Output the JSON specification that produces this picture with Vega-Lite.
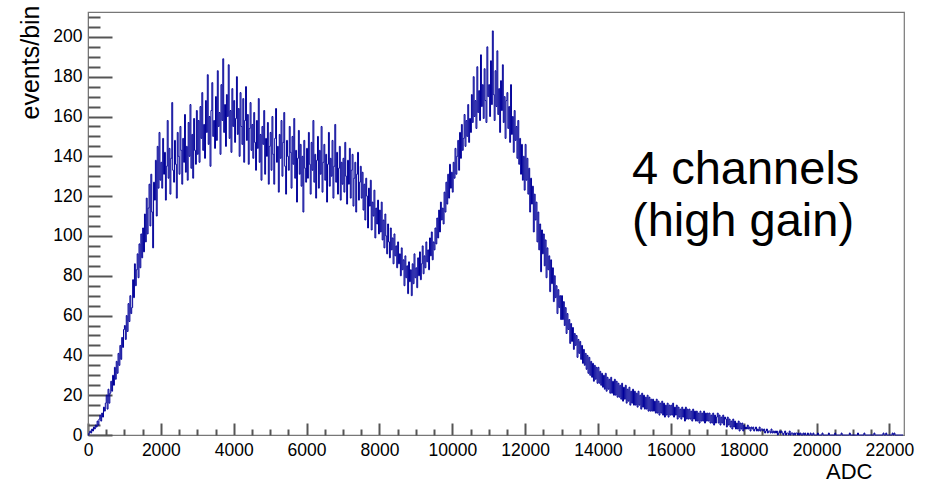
{
  "$schema": "https://vega.github.io/schema/vega-lite/v6.json",
  "width": 816,
  "height": 423,
  "autosize": {"type": "none"},
  "padding": {"left": 88, "top": 12, "right": 24, "bottom": 46},
  "background": "white",
  "config": {
    "view": {"stroke": "#777", "strokeWidth": 1.2},
    "font": "Liberation Sans"
  },
  "resolve": {"axis": {"x": "independent", "y": "independent"}},
  "layer": [
    {
      "data": {"values": [
        {"x":0,"y":0},{"x":25,"y":1},{"x":50,"y":2},{"x":75,"y":1},{"x":100,"y":3},{"x":125,"y":2},{"x":150,"y":4},{"x":175,"y":3},{"x":200,"y":5},{"x":225,"y":4},{"x":250,"y":7},{"x":275,"y":5},{"x":300,"y":8},{"x":325,"y":10},{"x":350,"y":7},{"x":375,"y":11},{"x":400,"y":9},{"x":425,"y":14},{"x":450,"y":12},{"x":475,"y":16},
        {"x":500,"y":20},{"x":525,"y":13},{"x":550,"y":23},{"x":575,"y":16},{"x":600,"y":21},{"x":625,"y":27},{"x":650,"y":22},{"x":675,"y":30},{"x":700,"y":25},{"x":725,"y":34},{"x":750,"y":28},{"x":775,"y":37},{"x":800,"y":31},{"x":825,"y":41},{"x":850,"y":35},{"x":875,"y":45},{"x":900,"y":38},{"x":925,"y":49},{"x":950,"y":44},{"x":975,"y":53},
        {"x":1000,"y":55},{"x":1025,"y":48},{"x":1050,"y":60},{"x":1075,"y":52},{"x":1100,"y":66},{"x":1125,"y":57},{"x":1150,"y":70},{"x":1175,"y":61},{"x":1200,"y":64},{"x":1225,"y":78},{"x":1250,"y":69},{"x":1275,"y":86},{"x":1300,"y":75},{"x":1325,"y":83},{"x":1350,"y":91},{"x":1375,"y":79},{"x":1400,"y":96},{"x":1425,"y":84},{"x":1450,"y":101},{"x":1475,"y":89},
        {"x":1500,"y":104},{"x":1525,"y":92},{"x":1550,"y":111},{"x":1575,"y":97},{"x":1600,"y":119},{"x":1625,"y":101},{"x":1650,"y":114},{"x":1675,"y":126},{"x":1700,"y":105},{"x":1725,"y":131},{"x":1750,"y":112},{"x":1775,"y":94},{"x":1800,"y":127},{"x":1825,"y":118},{"x":1850,"y":138},{"x":1875,"y":110},{"x":1900,"y":145},{"x":1925,"y":124},{"x":1950,"y":152},{"x":1975,"y":128},
        {"x":2000,"y":137},{"x":2025,"y":124},{"x":2050,"y":149},{"x":2075,"y":131},{"x":2100,"y":142},{"x":2125,"y":118},{"x":2150,"y":135},{"x":2175,"y":158},{"x":2200,"y":129},{"x":2225,"y":144},{"x":2250,"y":121},{"x":2275,"y":139},{"x":2300,"y":167},{"x":2325,"y":133},{"x":2350,"y":127},{"x":2375,"y":148},{"x":2400,"y":136},{"x":2425,"y":119},{"x":2450,"y":152},{"x":2475,"y":140},
        {"x":2500,"y":131},{"x":2525,"y":155},{"x":2550,"y":143},{"x":2575,"y":126},{"x":2600,"y":149},{"x":2625,"y":137},{"x":2650,"y":161},{"x":2675,"y":132},{"x":2700,"y":145},{"x":2725,"y":128},{"x":2750,"y":157},{"x":2775,"y":140},{"x":2800,"y":166},{"x":2825,"y":134},{"x":2850,"y":151},{"x":2875,"y":129},{"x":2900,"y":159},{"x":2925,"y":143},{"x":2950,"y":136},{"x":2975,"y":163},
        {"x":3000,"y":141},{"x":3025,"y":158},{"x":3050,"y":137},{"x":3075,"y":165},{"x":3100,"y":149},{"x":3125,"y":172},{"x":3150,"y":143},{"x":3175,"y":156},{"x":3200,"y":139},{"x":3225,"y":168},{"x":3250,"y":152},{"x":3275,"y":181},{"x":3300,"y":146},{"x":3325,"y":160},{"x":3350,"y":135},{"x":3375,"y":163},{"x":3400,"y":177},{"x":3425,"y":150},{"x":3450,"y":158},{"x":3475,"y":144},
        {"x":3500,"y":170},{"x":3525,"y":148},{"x":3550,"y":183},{"x":3575,"y":155},{"x":3600,"y":162},{"x":3625,"y":141},{"x":3650,"y":176},{"x":3675,"y":158},{"x":3700,"y":189},{"x":3725,"y":152},{"x":3750,"y":166},{"x":3775,"y":145},{"x":3800,"y":171},{"x":3825,"y":160},{"x":3850,"y":186},{"x":3875,"y":149},{"x":3900,"y":163},{"x":3925,"y":142},{"x":3950,"y":174},{"x":3975,"y":155},
        {"x":4000,"y":168},{"x":4025,"y":147},{"x":4050,"y":159},{"x":4075,"y":180},{"x":4100,"y":151},{"x":4125,"y":164},{"x":4150,"y":140},{"x":4175,"y":172},{"x":4200,"y":155},{"x":4225,"y":146},{"x":4250,"y":169},{"x":4275,"y":137},{"x":4300,"y":158},{"x":4325,"y":175},{"x":4350,"y":148},{"x":4375,"y":161},{"x":4400,"y":136},{"x":4425,"y":154},{"x":4450,"y":167},{"x":4475,"y":143},
        {"x":4500,"y":156},{"x":4525,"y":139},{"x":4550,"y":162},{"x":4575,"y":147},{"x":4600,"y":133},{"x":4625,"y":158},{"x":4650,"y":144},{"x":4675,"y":169},{"x":4700,"y":137},{"x":4725,"y":151},{"x":4750,"y":128},{"x":4775,"y":155},{"x":4800,"y":146},{"x":4825,"y":163},{"x":4850,"y":131},{"x":4875,"y":149},{"x":4900,"y":140},{"x":4925,"y":157},{"x":4950,"y":126},{"x":4975,"y":145},
        {"x":5000,"y":152},{"x":5025,"y":133},{"x":5050,"y":160},{"x":5075,"y":141},{"x":5100,"y":126},{"x":5125,"y":149},{"x":5150,"y":164},{"x":5175,"y":137},{"x":5200,"y":145},{"x":5225,"y":122},{"x":5250,"y":151},{"x":5275,"y":139},{"x":5300,"y":158},{"x":5325,"y":130},{"x":5350,"y":147},{"x":5375,"y":162},{"x":5400,"y":135},{"x":5425,"y":121},{"x":5450,"y":148},{"x":5475,"y":140},
        {"x":5500,"y":133},{"x":5525,"y":155},{"x":5550,"y":142},{"x":5575,"y":124},{"x":5600,"y":150},{"x":5625,"y":136},{"x":5650,"y":159},{"x":5675,"y":129},{"x":5700,"y":143},{"x":5725,"y":117},{"x":5750,"y":139},{"x":5775,"y":153},{"x":5800,"y":131},{"x":5825,"y":146},{"x":5850,"y":125},{"x":5875,"y":140},{"x":5900,"y":112},{"x":5925,"y":148},{"x":5950,"y":134},{"x":5975,"y":127},
        {"x":6000,"y":144},{"x":6025,"y":129},{"x":6050,"y":152},{"x":6075,"y":136},{"x":6100,"y":121},{"x":6125,"y":147},{"x":6150,"y":133},{"x":6175,"y":158},{"x":6200,"y":127},{"x":6225,"y":141},{"x":6250,"y":119},{"x":6275,"y":138},{"x":6300,"y":150},{"x":6325,"y":124},{"x":6350,"y":143},{"x":6375,"y":131},{"x":6400,"y":155},{"x":6425,"y":122},{"x":6450,"y":137},{"x":6475,"y":146},
        {"x":6500,"y":128},{"x":6525,"y":141},{"x":6550,"y":117},{"x":6575,"y":136},{"x":6600,"y":152},{"x":6625,"y":125},{"x":6650,"y":139},{"x":6675,"y":130},{"x":6700,"y":148},{"x":6725,"y":119},{"x":6750,"y":135},{"x":6775,"y":156},{"x":6800,"y":127},{"x":6825,"y":142},{"x":6850,"y":121},{"x":6875,"y":134},{"x":6900,"y":145},{"x":6925,"y":118},{"x":6950,"y":137},{"x":6975,"y":126},
        {"x":7000,"y":139},{"x":7025,"y":122},{"x":7050,"y":147},{"x":7075,"y":130},{"x":7100,"y":116},{"x":7125,"y":138},{"x":7150,"y":126},{"x":7175,"y":144},{"x":7200,"y":119},{"x":7225,"y":133},{"x":7250,"y":141},{"x":7275,"y":115},{"x":7300,"y":129},{"x":7325,"y":137},{"x":7350,"y":112},{"x":7375,"y":131},{"x":7400,"y":142},{"x":7425,"y":118},{"x":7450,"y":127},{"x":7475,"y":135},
        {"x":7500,"y":119},{"x":7525,"y":132},{"x":7550,"y":113},{"x":7575,"y":126},{"x":7600,"y":108},{"x":7625,"y":129},{"x":7650,"y":120},{"x":7675,"y":104},{"x":7700,"y":124},{"x":7725,"y":115},{"x":7750,"y":128},{"x":7775,"y":103},{"x":7800,"y":117},{"x":7825,"y":110},{"x":7850,"y":123},{"x":7875,"y":99},{"x":7900,"y":114},{"x":7925,"y":106},{"x":7950,"y":118},{"x":7975,"y":101},
        {"x":8000,"y":113},{"x":8025,"y":102},{"x":8050,"y":117},{"x":8075,"y":98},{"x":8100,"y":108},{"x":8125,"y":94},{"x":8150,"y":111},{"x":8175,"y":100},{"x":8200,"y":91},{"x":8225,"y":106},{"x":8250,"y":97},{"x":8275,"y":89},{"x":8300,"y":104},{"x":8325,"y":93},{"x":8350,"y":99},{"x":8375,"y":86},{"x":8400,"y":101},{"x":8425,"y":90},{"x":8450,"y":95},{"x":8475,"y":84},
        {"x":8500,"y":97},{"x":8525,"y":86},{"x":8550,"y":91},{"x":8575,"y":80},{"x":8600,"y":94},{"x":8625,"y":83},{"x":8650,"y":88},{"x":8675,"y":75},{"x":8700,"y":90},{"x":8725,"y":79},{"x":8750,"y":85},{"x":8775,"y":71},{"x":8800,"y":87},{"x":8825,"y":77},{"x":8850,"y":83},{"x":8875,"y":70},{"x":8900,"y":86},{"x":8925,"y":76},{"x":8950,"y":91},{"x":8975,"y":79},
        {"x":9000,"y":84},{"x":9025,"y":74},{"x":9050,"y":89},{"x":9075,"y":80},{"x":9100,"y":92},{"x":9125,"y":78},{"x":9150,"y":86},{"x":9175,"y":95},{"x":9200,"y":81},{"x":9225,"y":90},{"x":9250,"y":84},{"x":9275,"y":97},{"x":9300,"y":87},{"x":9325,"y":93},{"x":9350,"y":83},{"x":9375,"y":99},{"x":9400,"y":90},{"x":9425,"y":102},{"x":9450,"y":88},{"x":9475,"y":97},
        {"x":9500,"y":93},{"x":9525,"y":104},{"x":9550,"y":96},{"x":9575,"y":109},{"x":9600,"y":99},{"x":9625,"y":113},{"x":9650,"y":102},{"x":9675,"y":117},{"x":9700,"y":108},{"x":9725,"y":114},{"x":9750,"y":106},{"x":9775,"y":122},{"x":9800,"y":112},{"x":9825,"y":127},{"x":9850,"y":116},{"x":9875,"y":131},{"x":9900,"y":119},{"x":9925,"y":136},{"x":9950,"y":124},{"x":9975,"y":132},
        {"x":10000,"y":122},{"x":10025,"y":137},{"x":10050,"y":129},{"x":10075,"y":144},{"x":10100,"y":131},{"x":10125,"y":140},{"x":10150,"y":148},{"x":10175,"y":133},{"x":10200,"y":152},{"x":10225,"y":139},{"x":10250,"y":156},{"x":10275,"y":143},{"x":10300,"y":149},{"x":10325,"y":161},{"x":10350,"y":145},{"x":10375,"y":158},{"x":10400,"y":150},{"x":10425,"y":166},{"x":10450,"y":147},{"x":10475,"y":159},
        {"x":10500,"y":152},{"x":10525,"y":171},{"x":10550,"y":157},{"x":10575,"y":180},{"x":10600,"y":160},{"x":10625,"y":168},{"x":10650,"y":154},{"x":10675,"y":185},{"x":10700,"y":162},{"x":10725,"y":173},{"x":10750,"y":158},{"x":10775,"y":191},{"x":10800,"y":165},{"x":10825,"y":176},{"x":10850,"y":159},{"x":10875,"y":184},{"x":10900,"y":168},{"x":10925,"y":157},{"x":10950,"y":195},{"x":10975,"y":170},
        {"x":11000,"y":176},{"x":11025,"y":160},{"x":11050,"y":188},{"x":11075,"y":166},{"x":11100,"y":203},{"x":11125,"y":171},{"x":11150,"y":158},{"x":11175,"y":183},{"x":11200,"y":165},{"x":11225,"y":193},{"x":11250,"y":161},{"x":11275,"y":174},{"x":11300,"y":152},{"x":11325,"y":178},{"x":11350,"y":163},{"x":11375,"y":186},{"x":11400,"y":157},{"x":11425,"y":170},{"x":11450,"y":149},{"x":11475,"y":168},
        {"x":11500,"y":172},{"x":11525,"y":154},{"x":11550,"y":165},{"x":11575,"y":147},{"x":11600,"y":176},{"x":11625,"y":151},{"x":11650,"y":160},{"x":11675,"y":142},{"x":11700,"y":163},{"x":11725,"y":148},{"x":11750,"y":155},{"x":11775,"y":139},{"x":11800,"y":158},{"x":11825,"y":136},{"x":11850,"y":149},{"x":11875,"y":131},{"x":11900,"y":146},{"x":11925,"y":128},{"x":11950,"y":140},{"x":11975,"y":123},
        {"x":12000,"y":146},{"x":12025,"y":128},{"x":12050,"y":139},{"x":12075,"y":121},{"x":12100,"y":134},{"x":12125,"y":112},{"x":12150,"y":129},{"x":12175,"y":116},{"x":12200,"y":125},{"x":12225,"y":102},{"x":12250,"y":121},{"x":12275,"y":108},{"x":12300,"y":117},{"x":12325,"y":97},{"x":12350,"y":112},{"x":12375,"y":93},{"x":12400,"y":106},{"x":12425,"y":82},{"x":12450,"y":103},{"x":12475,"y":91},
        {"x":12500,"y":101},{"x":12525,"y":85},{"x":12550,"y":98},{"x":12575,"y":79},{"x":12600,"y":94},{"x":12625,"y":83},{"x":12650,"y":90},{"x":12675,"y":72},{"x":12700,"y":88},{"x":12725,"y":76},{"x":12750,"y":84},{"x":12775,"y":67},{"x":12800,"y":80},{"x":12825,"y":69},{"x":12850,"y":75},{"x":12875,"y":61},{"x":12900,"y":73},{"x":12925,"y":64},{"x":12950,"y":70},{"x":12975,"y":58},
        {"x":13000,"y":70},{"x":13025,"y":58},{"x":13050,"y":67},{"x":13075,"y":55},{"x":13100,"y":64},{"x":13125,"y":51},{"x":13150,"y":61},{"x":13175,"y":53},{"x":13200,"y":58},{"x":13225,"y":46},{"x":13250,"y":56},{"x":13275,"y":47},{"x":13300,"y":54},{"x":13325,"y":43},{"x":13350,"y":51},{"x":13375,"y":45},{"x":13400,"y":50},{"x":13425,"y":39},{"x":13450,"y":48},{"x":13475,"y":41},
        {"x":13500,"y":47},{"x":13525,"y":38},{"x":13550,"y":45},{"x":13575,"y":36},{"x":13600,"y":43},{"x":13625,"y":35},{"x":13650,"y":41},{"x":13675,"y":33},{"x":13700,"y":40},{"x":13725,"y":31},{"x":13750,"y":39},{"x":13775,"y":30},{"x":13800,"y":37},{"x":13825,"y":29},{"x":13850,"y":36},{"x":13875,"y":27},{"x":13900,"y":35},{"x":13925,"y":28},{"x":13950,"y":34},{"x":13975,"y":26},
        {"x":14000,"y":34},{"x":14025,"y":26},{"x":14050,"y":32},{"x":14075,"y":25},{"x":14100,"y":31},{"x":14125,"y":24},{"x":14150,"y":30},{"x":14175,"y":23},{"x":14200,"y":31},{"x":14225,"y":22},{"x":14250,"y":29},{"x":14275,"y":23},{"x":14300,"y":28},{"x":14325,"y":21},{"x":14350,"y":29},{"x":14375,"y":21},{"x":14400,"y":27},{"x":14425,"y":20},{"x":14450,"y":28},{"x":14475,"y":20},
        {"x":14500,"y":27},{"x":14525,"y":19},{"x":14550,"y":26},{"x":14575,"y":19},{"x":14600,"y":25},{"x":14625,"y":18},{"x":14650,"y":26},{"x":14675,"y":17},{"x":14700,"y":24},{"x":14725,"y":18},{"x":14750,"y":25},{"x":14775,"y":16},{"x":14800,"y":23},{"x":14825,"y":17},{"x":14850,"y":24},{"x":14875,"y":15},{"x":14900,"y":22},{"x":14925,"y":16},{"x":14950,"y":23},{"x":14975,"y":15},
        {"x":15000,"y":22},{"x":15025,"y":15},{"x":15050,"y":21},{"x":15075,"y":14},{"x":15100,"y":22},{"x":15125,"y":15},{"x":15150,"y":20},{"x":15175,"y":13},{"x":15200,"y":21},{"x":15225,"y":14},{"x":15250,"y":20},{"x":15275,"y":13},{"x":15300,"y":19},{"x":15325,"y":13},{"x":15350,"y":20},{"x":15375,"y":12},{"x":15400,"y":19},{"x":15425,"y":12},{"x":15450,"y":18},{"x":15475,"y":12},
        {"x":15500,"y":18},{"x":15525,"y":12},{"x":15550,"y":17},{"x":15575,"y":11},{"x":15600,"y":18},{"x":15625,"y":11},{"x":15650,"y":17},{"x":15675,"y":10},{"x":15700,"y":16},{"x":15725,"y":11},{"x":15750,"y":17},{"x":15775,"y":10},{"x":15800,"y":16},{"x":15825,"y":9},{"x":15850,"y":15},{"x":15875,"y":10},{"x":15900,"y":16},{"x":15925,"y":9},{"x":15950,"y":15},{"x":15975,"y":10},
        {"x":16000,"y":15},{"x":16025,"y":10},{"x":16050,"y":16},{"x":16075,"y":9},{"x":16100,"y":14},{"x":16125,"y":10},{"x":16150,"y":15},{"x":16175,"y":8},{"x":16200,"y":14},{"x":16225,"y":9},{"x":16250,"y":13},{"x":16275,"y":8},{"x":16300,"y":14},{"x":16325,"y":9},{"x":16350,"y":13},{"x":16375,"y":7},{"x":16400,"y":14},{"x":16425,"y":8},{"x":16450,"y":13},{"x":16475,"y":8},
        {"x":16500,"y":13},{"x":16525,"y":8},{"x":16550,"y":12},{"x":16575,"y":7},{"x":16600,"y":13},{"x":16625,"y":8},{"x":16650,"y":12},{"x":16675,"y":7},{"x":16700,"y":12},{"x":16725,"y":7},{"x":16750,"y":11},{"x":16775,"y":6},{"x":16800,"y":12},{"x":16825,"y":7},{"x":16850,"y":11},{"x":16875,"y":7},{"x":16900,"y":12},{"x":16925,"y":6},{"x":16950,"y":11},{"x":16975,"y":7},
        {"x":17000,"y":11},{"x":17025,"y":7},{"x":17050,"y":11},{"x":17075,"y":6},{"x":17100,"y":10},{"x":17125,"y":6},{"x":17150,"y":11},{"x":17175,"y":5},{"x":17200,"y":10},{"x":17225,"y":6},{"x":17250,"y":9},{"x":17275,"y":11},{"x":17300,"y":6},{"x":17325,"y":10},{"x":17350,"y":5},{"x":17375,"y":9},{"x":17400,"y":6},{"x":17425,"y":10},{"x":17450,"y":5},{"x":17475,"y":9},
        {"x":17500,"y":8},{"x":17525,"y":4},{"x":17550,"y":9},{"x":17575,"y":5},{"x":17600,"y":8},{"x":17625,"y":4},{"x":17650,"y":7},{"x":17675,"y":3},{"x":17700,"y":8},{"x":17725,"y":4},{"x":17750,"y":7},{"x":17775,"y":3},{"x":17800,"y":6},{"x":17825,"y":3},{"x":17850,"y":7},{"x":17875,"y":2},{"x":17900,"y":6},{"x":17925,"y":3},{"x":17950,"y":6},{"x":17975,"y":2},
        {"x":18000,"y":5},{"x":18025,"y":3},{"x":18050,"y":4},{"x":18075,"y":3},{"x":18100,"y":5},{"x":18125,"y":3},{"x":18150,"y":4},{"x":18175,"y":2},{"x":18200,"y":4},{"x":18225,"y":3},{"x":18250,"y":4},{"x":18275,"y":2},{"x":18300,"y":3},{"x":18325,"y":4},{"x":18350,"y":2},{"x":18375,"y":3},{"x":18400,"y":2},{"x":18425,"y":4},{"x":18450,"y":2},{"x":18475,"y":3},
        {"x":18500,"y":3},{"x":18525,"y":2},{"x":18550,"y":3},{"x":18575,"y":1},{"x":18600,"y":2},{"x":18625,"y":3},{"x":18650,"y":1},{"x":18675,"y":2},{"x":18700,"y":2},{"x":18725,"y":1},{"x":18750,"y":3},{"x":18775,"y":1},{"x":18800,"y":2},{"x":18825,"y":1},{"x":18850,"y":2},{"x":18875,"y":1},{"x":18900,"y":2},{"x":18925,"y":0},{"x":18950,"y":1},{"x":18975,"y":2},
        {"x":19000,"y":1},{"x":19025,"y":2},{"x":19050,"y":1},{"x":19075,"y":0},{"x":19100,"y":1},{"x":19125,"y":2},{"x":19150,"y":0},{"x":19175,"y":1},{"x":19200,"y":1},{"x":19225,"y":0},{"x":19250,"y":2},{"x":19275,"y":0},{"x":19300,"y":1},{"x":19325,"y":1},{"x":19350,"y":0},{"x":19375,"y":1},{"x":19400,"y":0},{"x":19425,"y":1},{"x":19450,"y":1},{"x":19475,"y":0},
        {"x":19500,"y":1},{"x":19525,"y":0},{"x":19550,"y":1},{"x":19575,"y":0},{"x":19600,"y":0},{"x":19625,"y":1},{"x":19650,"y":0},{"x":19675,"y":1},{"x":19700,"y":0},{"x":19725,"y":0},{"x":19750,"y":1},{"x":19775,"y":0},{"x":19800,"y":0},{"x":19825,"y":1},{"x":19850,"y":0},{"x":19875,"y":0},{"x":19900,"y":1},{"x":19925,"y":0},{"x":19950,"y":0},{"x":19975,"y":0},
        {"x":20000,"y":0},{"x":20025,"y":1},{"x":20050,"y":0},{"x":20075,"y":0},{"x":20100,"y":0},{"x":20125,"y":0},{"x":20150,"y":1},{"x":20175,"y":0},{"x":20200,"y":0},{"x":20225,"y":0},{"x":20250,"y":0},{"x":20275,"y":0},{"x":20300,"y":0},{"x":20325,"y":1},{"x":20350,"y":0},{"x":20375,"y":0},{"x":20400,"y":0},{"x":20425,"y":0},{"x":20450,"y":0},{"x":20475,"y":0},
        {"x":20500,"y":1},{"x":20525,"y":0},{"x":20550,"y":0},{"x":20575,"y":0},{"x":20600,"y":0},{"x":20625,"y":0},{"x":20650,"y":0},{"x":20675,"y":1},{"x":20700,"y":0},{"x":20725,"y":0},{"x":20750,"y":0},{"x":20775,"y":0},{"x":20800,"y":0},{"x":20825,"y":0},{"x":20850,"y":0},{"x":20875,"y":0},{"x":20900,"y":1},{"x":20925,"y":0},{"x":20950,"y":0},{"x":20975,"y":0},
        {"x":21000,"y":0},{"x":21025,"y":0},{"x":21050,"y":0},{"x":21075,"y":0},{"x":21100,"y":0},{"x":21125,"y":1},{"x":21150,"y":0},{"x":21175,"y":0},{"x":21200,"y":0},{"x":21225,"y":0},{"x":21250,"y":0},{"x":21275,"y":0},{"x":21300,"y":1},{"x":21325,"y":0},{"x":21350,"y":0},{"x":21375,"y":0},{"x":21400,"y":0},{"x":21425,"y":0},{"x":21450,"y":0},{"x":21475,"y":0},
        {"x":21500,"y":0},{"x":21525,"y":0},{"x":21550,"y":0},{"x":21575,"y":1},{"x":21600,"y":0},{"x":21625,"y":0},{"x":21650,"y":0},{"x":21675,"y":0},{"x":21700,"y":0},{"x":21725,"y":0},{"x":21750,"y":0},{"x":21775,"y":0},{"x":21800,"y":0},{"x":21825,"y":1},{"x":21850,"y":0},{"x":21875,"y":0},{"x":21900,"y":1},{"x":21925,"y":0},{"x":21950,"y":0},{"x":21975,"y":0},
        {"x":22000,"y":0},{"x":22025,"y":0},{"x":22050,"y":0},{"x":22075,"y":1},{"x":22100,"y":0},{"x":22125,"y":1},{"x":22150,"y":0},{"x":22175,"y":0},{"x":22200,"y":0},{"x":22225,"y":0},{"x":22250,"y":0},{"x":22275,"y":0},{"x":22300,"y":0},{"x":22325,"y":0},{"x":22350,"y":0},{"x":22375,"y":0}
      ]},
      "mark": {"type": "line", "interpolate": "step-after", "color": "#000099", "strokeWidth": 1},
      "encoding": {
        "x": {
          "field": "x", "type": "quantitative",
          "scale": {"domain": [0, 22400], "nice": false, "zero": false},
          "axis": {
            "orient": "bottom",
            "values": [0,2000,4000,6000,8000,10000,12000,14000,16000,18000,20000,22000],
            "ticks": true,
            "tickSize": -12,
            "tickColor": "#555",
            "tickWidth": 2,
            "labelPadding": 18,
            "labelFlush": false,
            "labelOverlap": false,
            "labelFontSize": 17.5,
            "labelFont": "Liberation Sans",
            "labelColor": "black",
            "labelExpr": "replace(datum.label, ',', '')",
            "domainColor": "#777",
            "grid": false,
            "title": "ADC",
            "titleFont": "Liberation Sans",
            "titleFontSize": 22,
            "titleFontWeight": "normal",
            "titleColor": "black",
            "titleAlign": "right",
            "titleBaseline": "alphabetic",
            "titleX": 784,
            "titleY": 43
          }
        },
        "y": {
          "field": "y", "type": "quantitative",
          "scale": {"domain": [0, 212.5], "nice": false, "zero": false},
          "axis": {
            "orient": "left",
            "values": [0,20,40,60,80,100,120,140,160,180,200],
            "ticks": true,
            "tickSize": -24,
            "tickColor": "#555",
            "tickWidth": 2,
            "labelPadding": 30,
            "labelFlush": false,
            "labelOverlap": false,
            "labelFontSize": 17.5,
            "labelFont": "Liberation Sans",
            "labelColor": "black",
            "domainColor": "#777",
            "grid": false,
            "title": "events/bin",
            "titleFont": "Liberation Sans",
            "titleFontSize": 25,
            "titleFontWeight": "normal",
            "titleColor": "black",
            "titleAngle": -90,
            "titleAlign": "right",
            "titleBaseline": "alphabetic",
            "titleX": -50,
            "titleY": -7
          }
        }
      }
    },
    {
      "data": {"values": [{"note": "4 channels (high gain)"}]},
      "mark": {"type": "text", "text": ["4 channels", "(high gain)"], "font": "Liberation Sans", "fontSize": 47, "lineHeight": 52, "align": "left", "baseline": "alphabetic", "color": "black"},
      "encoding": {
        "x": {
          "datum": 14933, "type": "quantitative",
          "axis": {
            "orient": "top",
            "offset": -423,
            "values": [500,1000,1500,2500,3000,3500,4500,5000,5500,6500,7000,7500,8500,9000,9500,10500,11000,11500,12500,13000,13500,14500,15000,15500,16500,17000,17500,18500,19000,19500,20500,21000,21500],
            "labels": false,
            "ticks": true,
            "tickSize": 6,
            "tickColor": "#555",
            "tickWidth": 2,
            "domain": false,
            "grid": false,
            "title": null
          }
        },
        "y": {
          "datum": 126, "type": "quantitative",
          "axis": {
            "orient": "right",
            "offset": -816,
            "values": [5,10,15,25,30,35,45,50,55,65,70,75,85,90,95,105,110,115,125,130,135,145,150,155,165,170,175,185,190,195,205,210],
            "labels": false,
            "ticks": true,
            "tickSize": 12,
            "tickColor": "#555",
            "tickWidth": 2,
            "domain": false,
            "grid": false,
            "title": null
          }
        }
      }
    }
  ]
}
